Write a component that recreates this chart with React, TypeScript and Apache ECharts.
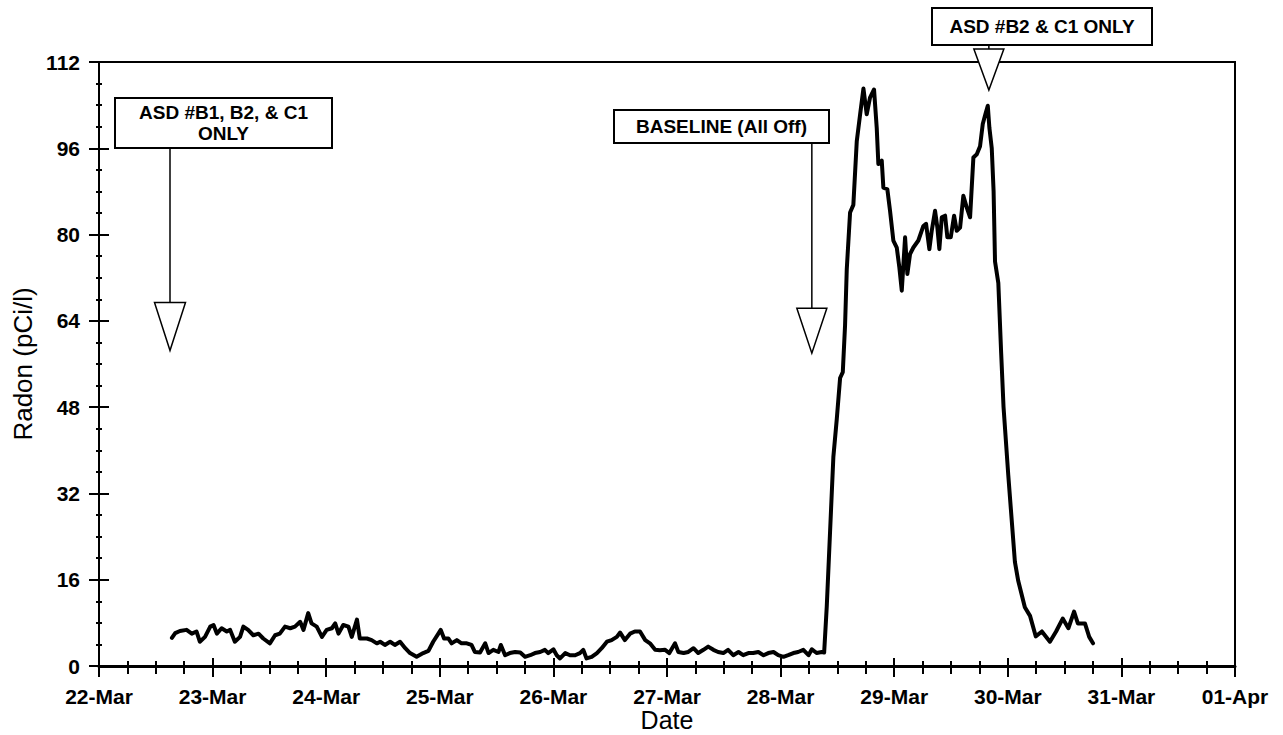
import React, { useEffect, useRef } from 'react';
import * as echarts from 'echarts';

// x tick labels (one per day, x axis counted in hours from 22-Mar 00:00)
const tickLabels = ['22-Mar', '23-Mar', '24-Mar', '25-Mar', '26-Mar', '27-Mar', '28-Mar', '29-Mar', '30-Mar', '31-Mar', '01-Apr'];

// hours since 22-Mar 00:00
const hours = [
  15.4, 16.1, 17.1, 18.5, 19.6, 20.6, 21.3, 22.4, 23.5, 24.2, 24.9, 25.9, 27.0, 27.7, 28.7, 29.8, 30.5, 31.5, 32.6, 33.7,
  34.7, 36.1, 37.2, 38.2, 39.3, 40.4, 41.4, 42.5, 43.2, 44.2, 44.9, 46.0, 47.1, 48.1, 49.2, 49.9, 50.6, 51.6, 52.7, 53.4,
  54.5, 55.1, 56.6, 57.6, 58.7, 59.4, 60.4, 61.5, 62.5, 63.6, 64.7, 65.7, 67.1, 68.5, 69.6,
  70.6, 71.7, 72.2, 72.9, 73.8, 74.5, 75.6, 76.6, 77.7, 78.7, 79.4, 80.5, 81.6, 82.3, 83.3, 84.4, 84.9, 85.8, 86.8, 87.9,
  89.0, 90.0, 91.1, 92.1, 93.2, 94.2, 94.9, 96.0, 96.7, 97.4, 98.5, 99.5, 100.6, 101.6, 102.3, 103.0, 104.1, 105.2, 106.2,
  107.3, 108.3, 109.4, 110.1, 111.1, 112.2, 113.2, 114.3, 115.4, 116.4, 117.5, 118.5, 119.6, 120.5, 121.7, 122.4, 123.5, 124.5,
  125.6, 126.6, 127.7, 128.7, 129.8, 130.8, 131.9, 132.9, 134.0, 135.1, 136.1, 137.2, 138.2, 139.3, 140.4, 141.4, 142.5,
  143.5, 144.6, 145.6, 146.7, 147.7, 148.8, 149.9, 150.6, 151.6, 152.7, 153.2,
  153.75, 154.45, 155.15, 155.87, 156.57, 157.14, 157.62, 157.98, 158.68, 159.37, 160.09, 160.79, 161.5, 162.19, 162.89,
  163.74, 164.31, 164.65, 165.37, 165.71, 166.55, 167.12, 167.82, 168.54, 169.09, 169.6, 170.3, 170.78, 171.35, 172.05,
  173.1, 174.16, 174.73, 175.43, 175.93, 176.63, 177.12, 177.54, 178.05, 178.75, 179.23, 179.95, 180.65, 181.22, 181.92,
  182.61, 183.33, 184.03, 184.73, 185.45, 186.14, 186.71, 187.26, 187.77, 188.11, 188.61, 189.0, 189.3, 190.0, 190.6,
  191.1, 192.1, 193.5, 194.2, 195.6, 196.7, 197.9, 199.2, 200.9, 202.2, 203.6, 204.8, 206.0, 206.8, 208.3, 209.2, 210.0,
];

// radon concentration (pCi/l)
const radon = [
  5.2, 6.1, 6.5, 6.7, 6.0, 6.4, 4.5, 5.4, 7.3, 7.6, 6.0, 7.0, 6.4, 6.7, 4.5, 5.4, 7.3, 6.7, 5.7, 6.0,
  5.1, 4.2, 5.7, 6.0, 7.3, 7.0, 7.3, 8.2, 6.7, 9.8, 7.9, 7.3, 5.4, 6.7, 7.0, 7.9, 6.0, 7.6, 7.3, 5.4,
  8.6, 5.1, 5.1, 4.8, 4.2, 4.5, 3.9, 4.5, 3.9, 4.5, 3.3, 2.4, 1.7, 2.4, 2.8,
  4.5, 6.0, 6.7, 5.1, 5.1, 4.2, 4.8, 4.2, 4.2, 3.9, 2.6, 2.5, 4.2, 2.4, 3.0, 2.6, 3.9, 2.0, 2.4, 2.6,
  2.5, 1.7, 2.0, 2.4, 2.6, 3.0, 2.4, 3.1, 2.0, 1.4, 2.4, 2.0, 2.0, 2.4, 3.0, 1.4, 1.7, 2.4, 3.3,
  4.5, 4.8, 5.4, 6.2, 4.8, 6.0, 6.4, 6.4, 4.8, 4.2, 3.0, 2.9, 3.0, 2.4, 4.2, 2.6, 2.4, 2.6,
  3.3, 2.4, 3.0, 3.6, 3.0, 2.6, 2.4, 3.0, 2.0, 2.6, 2.0, 2.4, 2.4, 2.6, 2.0, 2.4, 2.6,
  2.0, 1.7, 2.0, 2.4, 2.6, 3.0, 2.0, 3.1, 2.4, 2.6, 2.5,
  11, 24.9, 38.8, 45.8, 53.4, 54.5, 63.2, 73.6, 84.1, 85.5, 97.3, 102.2, 107.1, 102.3, 105.4,
  106.9, 99.8, 93.1, 93.7, 88.7, 88.4, 84.4, 78.9, 77.6, 73.9, 69.6, 79.5, 72.7, 76.4, 77.6,
  78.9, 81.6, 82.0, 77.3, 80.7, 84.4, 81.3, 77.3, 83.2, 83.5, 79.5, 79.5, 83.5, 80.7, 81.3,
  87.2, 85.0, 83.2, 94.3, 94.9, 96.4, 100.5, 102.3, 103.9, 99.8, 96.0, 88, 75, 71, 58,
  48, 35.4, 19.3, 15.8, 10.9, 9.3, 5.5, 6.4, 4.5, 6.4, 8.8, 7.0, 10.1, 7.9, 7.9, 5.4, 4.2,
];

// annotations: label lines, hour pointed at, value at arrow tip
const annotationLabels = [['ASD #B1, B2, & C1', 'ONLY'], ['BASELINE (All Off)'], ['ASD #B2 & C1 ONLY']];
const annotationHours = [15, 150.6, 188];
const annotationTipValues = [58.5, 58, 106.8];

const FONT = '"Liberation Sans", Arial, Helvetica, sans-serif';

export default function App() {
  const ref = useRef<HTMLDivElement>(null);

  useEffect(() => {
    const chart = echarts.init(ref.current!, null, { renderer: 'svg' });
    const data = hours.map((h, i) => [h, radon[i]]);
    const tickLine = { color: '#000', width: 2 };
    const labelStyle = { color: '#000', fontFamily: FONT, fontWeight: 'bold', fontSize: 21 };
    const nameStyle = { color: '#000', fontFamily: FONT, fontSize: 26 };

    chart.setOption({
      animation: false,
      backgroundColor: '#fff',
      grid: {
        left: 99, right: 48, top: 62, bottom: 69,
        outerBoundsMode: 'none', containLabel: false,
        show: true, borderColor: '#000', borderWidth: 2, backgroundColor: 'transparent',
      },
      xAxis: [
        {
          type: 'value', min: 0, max: 240, interval: 24, position: 'bottom',
          axisLine: { onZero: false, lineStyle: { color: '#000', width: 3 } },
          axisTick: { show: true, length: 11, lineStyle: tickLine },
          minorTick: { show: true, splitNumber: 4, length: 8, lineStyle: tickLine },
          splitLine: { show: false },
          axisLabel: { ...labelStyle, margin: 20, formatter: (v: number) => tickLabels[Math.round(v / 24)] ?? '' },
          name: 'Date', nameLocation: 'middle', nameGap: 41, nameMoveOverlap: false,
          nameTextStyle: { ...nameStyle, fontSize: 25, verticalAlign: 'top', lineHeight: 25 },
        },
        {
          type: 'value', min: 0, max: 240, interval: 24, position: 'bottom',
          axisLine: { show: false, onZero: false },
          axisTick: { show: true, inside: true, length: 8, lineStyle: tickLine },
          minorTick: { show: true, splitNumber: 4, length: 5, lineStyle: tickLine },
          splitLine: { show: false },
          axisLabel: { show: false },
        },
      ],
      yAxis: [
        {
          type: 'value', min: 0, max: 112, interval: 16, position: 'left',
          axisLine: { show: true, onZero: false, lineStyle: { color: '#000', width: 2 } },
          axisTick: { show: true, length: 10, lineStyle: tickLine },
          minorTick: { show: true, splitNumber: 4, length: 3, lineStyle: tickLine },
          splitLine: { show: false },
          axisLabel: { ...labelStyle, margin: 19 },
          name: 'Radon (pCi/l)', nameLocation: 'middle', nameGap: 63, nameMoveOverlap: false,
          nameTextStyle: nameStyle,
        },
        {
          type: 'value', min: 0, max: 112, interval: 16, position: 'left',
          axisLine: { show: false, onZero: false },
          axisTick: { show: true, inside: true, length: 10, lineStyle: tickLine },
          minorTick: { show: true, splitNumber: 4, length: 3, lineStyle: tickLine },
          splitLine: { show: false },
          axisLabel: { show: false },
        },
      ],
      series: [
        {
          type: 'line', xAxisIndex: 0, yAxisIndex: 0, data,
          showSymbol: false, symbol: 'none',
          lineStyle: { color: '#000', width: 4, join: 'round', cap: 'round' },
          z: 3,
        },
      ],
    });

    // annotation layout (pixels): boxes and arrowhead sizes
    const boxes = [
      { x: 115, y: 98, w: 217, h: 50 },
      { x: 614, y: 110, w: 215, h: 33 },
      { x: 932, y: 8, w: 220, h: 37 },
    ];
    const heads = [
      { hw: 15.5, h: 48 },
      { hw: 15, h: 45 },
      { hw: 15, h: 41 },
    ];
    const elements: any[] = [];
    annotationLabels.forEach((lines, i) => {
      const [ax, ay] = chart.convertToPixel({ gridIndex: 0 }, [annotationHours[i], annotationTipValues[i]]) as number[];
      const b = boxes[i];
      const hd = heads[i];
      const triTop = ay - hd.h;
      elements.push({
        type: 'line', z: 10,
        shape: { x1: ax, y1: b.y + b.h, x2: ax, y2: triTop },
        style: { stroke: '#000', lineWidth: 1.5 },
      });
      elements.push({
        type: 'polygon', z: 11,
        shape: { points: [[ax - hd.hw, triTop], [ax + hd.hw, triTop], [ax, ay]] },
        style: { fill: '#fff', stroke: '#000', lineWidth: 1.5 },
      });
      elements.push({
        type: 'rect', z: 12,
        shape: { x: b.x, y: b.y, width: b.w, height: b.h },
        style: { fill: '#fff', stroke: '#000', lineWidth: 2 },
      });
      const cx = b.x + b.w / 2;
      const step = 21;
      const y0 = b.y + b.h / 2 - ((lines.length - 1) * step) / 2;
      lines.forEach((t, j) => {
        elements.push({
          type: 'text', z: 13,
          style: {
            text: t, x: cx, y: y0 + j * step,
            font: `bold 19px ${FONT}`, fill: '#000',
            textAlign: 'center', textVerticalAlign: 'middle',
            align: 'center', verticalAlign: 'middle',
          },
        });
      });
    });
    chart.setOption({ graphic: { elements } });

    return () => chart.dispose();
  }, []);

  return (
    <div
      ref={ref}
      style={{ position: 'fixed', left: 0, top: 0, width: 1283, height: 735, background: '#fff' }}
    />
  );
}
